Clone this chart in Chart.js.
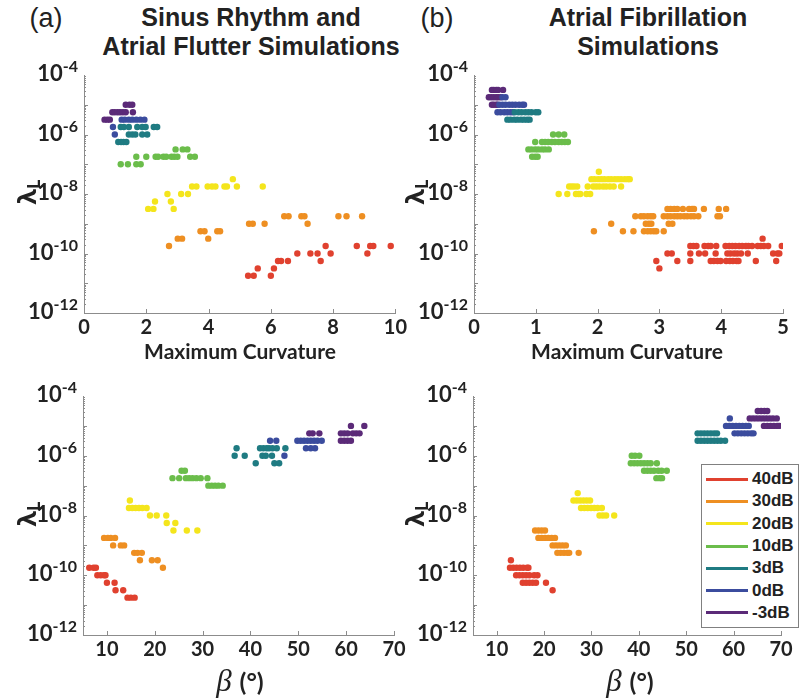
<!DOCTYPE html>
<html lang="en">
<head>
<meta charset="UTF-8">
<title>Regularisation parameter vs. curvature and beta</title>
<script src="https://cdn.jsdelivr.net/npm/chart.js"></script>
<style>
  body { margin: 0; width: 800px; height: 698px; position: relative; background: #fff; overflow: hidden; color: #222; }
  canvas { position: absolute; }
  .txt { position: absolute; transform: translate(-50%, -50%); white-space: nowrap; text-align: center; line-height: 1.13; }
  .title { font: bold 25px "Liberation Sans", Arial, sans-serif; }
  .tag { font: 27px "Liberation Sans", Arial, sans-serif; }
  .xlab { font: bold 21px Lato, sans-serif; }
  .beta { font: italic 31px "Liberation Serif", serif; }
  .beta span { font: bold 25px Lato, sans-serif; font-style: normal; }
  .ylab { font: bold 25px "Open Sans", sans-serif; transform: translate(-50%, -50%) rotate(-90deg); }
  .ylab sub { font-size: 17px; vertical-align: -4px; }
  #legend { position: absolute; left: 701px; top: 464px; width: 96px; height: 159px; border: 1px solid #808080; background: #fff; padding-top: 3px; box-sizing: content-box; }
  #legend div { height: 22.3px; display: flex; align-items: center; font: bold 17px "Liberation Sans", Arial, sans-serif; }
  #legend i { display: inline-block; width: 42px; height: 3px; margin: 0 4px 0 4px; }
</style>
</head>
<body>

<div class="txt tag" style="left:46px; top:18px">(a)</div>
<div class="txt title" style="left:251px; top:32px">Sinus Rhythm and<br>Atrial Flutter Simulations</div>
<div class="txt tag" style="left:437px; top:18px">(b)</div>
<div class="txt title" style="left:648px; top:32px">Atrial Fibrillation<br>Simulations</div>

<canvas id="srCurv" width="410" height="290" style="left:0; top:55px"></canvas>
<canvas id="afCurv" width="390" height="290" style="left:410px; top:55px"></canvas>
<canvas id="srBeta" width="410" height="290" style="left:0; top:376px"></canvas>
<canvas id="afBeta" width="390" height="290" style="left:410px; top:376px"></canvas>

<div class="txt xlab" style="left:240px; top:350px">Maximum Curvature</div>
<div class="txt xlab" style="left:627px; top:350px">Maximum Curvature</div>
<div class="txt beta" style="left:240px; top:681px">β <span>(°)</span></div>
<div class="txt beta" style="left:630px; top:681px">β <span>(°)</span></div>
<div class="txt ylab" style="left:27px; top:192px">λ<sub>L</sub></div>
<div class="txt ylab" style="left:415px; top:192px">λ<sub>L</sub></div>
<div class="txt ylab" style="left:27px; top:514px">λ<sub>L</sub></div>
<div class="txt ylab" style="left:415px; top:514px">λ<sub>L</sub></div>

<div id="legend"></div>

<script>
// SNR levels, one series each
const noiseLevels = ['40dB', '30dB', '20dB', '10dB', '3dB', '0dB', '-3dB'];
const levelColors = ['#e0412f', '#ee8f22', '#f4e51c', '#6bbd4b', '#1f7b82', '#3b4c9e', '#5b2a78'];

// tick labels
const yTickExps = [-4, -6, -8, -10, -12];
const srCurvTicks = [0, 2, 4, 6, 8, 10];
const afCurvTicks = [0, 1, 2, 3, 4, 5];
const betaTicks = [10, 20, 30, 40, 50, 60, 70];

// each row: [log10(lambda_L), x values...], one list of rows per SNR level
const srCurvature = [
  [[-9.75, 7.76, 8.76, 9.19, 9.29, 9.85], [-10, 6.85, 7.27, 7.5, 7.92, 9.1], [-10.25, 6.23, 6.33, 6.55, 7.6], [-10.5, 5.58, 6.1], [-10.75, 5.27, 5.45, 6.0]],
  [[-8.75, 6.43, 6.57, 6.98, 7.08, 8.17, 8.43, 8.93], [-9, 5.3, 5.42, 5.8, 7.18], [-9.25, 3.74, 3.87, 4.28, 4.37], [-9.5, 3.01, 3.15, 3.99], [-9.75, 2.73]],
  [[-7.5, 4.78], [-7.75, 3.47, 3.61, 3.97, 4.11, 4.22, 4.51, 4.59, 4.91, 5.74], [-8, 2.68, 3.12, 3.34], [-8.25, 2.28, 2.79], [-8.5, 2.06, 2.23, 2.88]],
  [[-6.5, 2.94, 3.17, 3.32], [-6.75, 1.68, 2.0, 2.3, 2.38, 2.55, 2.64, 2.81, 2.9, 3.0, 3.41, 3.56], [-7, 1.18, 1.41, 1.68, 1.82]],
  [[-5.75, 1.18, 1.28, 1.44, 1.71, 1.87, 1.98, 2.24, 2.35], [-6, 1.44, 1.55, 1.65, 1.87, 2.03], [-6.25, 1.1, 1.19, 1.27, 1.36]],
  [[-5.5, 1.21, 1.31, 1.44, 1.55, 1.68, 1.81, 1.94], [-5.75, 0.93], [-6, 0.99]],
  [[-5, 1.34, 1.46, 1.55], [-5.25, 0.91, 0.99, 1.08, 1.16, 1.25, 1.34, 1.57], [-5.5, 0.66, 0.75, 0.83]]
];

const afCurvature = [
  [[-9.5, 4.67], [-9.75, 3.5, 3.55, 3.6, 3.73, 3.79, 3.83, 3.92, 4.07, 4.13, 4.18, 4.23, 4.29, 4.34, 4.4, 4.44, 4.5, 4.59, 4.64, 4.69, 4.76, 4.98],
   [-10, 3.13, 3.2, 3.5, 3.64, 3.74, 3.91, 4.1, 4.15, 4.21, 4.26, 4.32, 4.43, 4.84, 4.91, 4.94],
   [-10.25, 2.95, 3.29, 3.5, 3.83, 3.88, 3.94, 3.99, 4.08, 4.14, 4.19, 4.25, 4.28, 4.56, 4.89], [-10.5, 3.0]],
  [[-8.5, 3.13, 3.18, 3.24, 3.29, 3.38, 3.48, 3.53, 3.56, 3.72, 3.96, 4.08],
   [-8.75, 2.61, 2.7, 2.75, 2.81, 2.86, 2.9, 3.07, 3.13, 3.18, 3.24, 3.29, 3.34, 3.4, 3.45, 3.51, 3.56, 3.63, 3.94, 3.98],
   [-9, 2.22, 2.78, 2.83, 2.87, 3.15, 3.21], [-9.25, 1.94, 2.41, 2.58, 2.75, 2.81, 2.86, 2.91, 2.95, 3.07]],
  [[-7.25, 2.02], [-7.5, 1.9, 1.95, 2.01, 2.06, 2.11, 2.17, 2.22, 2.28, 2.33, 2.38, 2.44, 2.49, 2.52],
   [-7.75, 1.54, 1.58, 1.62, 1.67, 1.84, 1.93, 1.98, 2.03, 2.09, 2.14, 2.2, 2.26, 2.38], [-8, 1.37, 1.51, 1.65, 1.69, 1.72, 1.82, 1.88]],
  [[-6, 1.28, 1.37, 1.46], [-6.25, 0.99, 1.1, 1.15, 1.2, 1.26, 1.31, 1.37, 1.42, 1.47, 1.52],
   [-6.5, 0.88, 0.93, 0.99, 1.04, 1.1, 1.15, 1.21], [-6.75, 0.94, 0.99, 1.03]],
  [[-5.25, 0.66, 0.72, 0.77, 0.83, 0.88, 0.93, 1.0, 1.04], [-5.5, 0.54, 0.59, 0.65, 0.7, 0.76, 0.81, 0.86, 0.9]],
  [[-4.75, 0.46, 0.51], [-5, 0.41, 0.46, 0.51, 0.57, 0.62, 0.67, 0.73, 0.78, 0.81], [-5.25, 0.38, 0.43, 0.49, 0.54, 0.59, 0.63]],
  [[-4.5, 0.29, 0.32, 0.36, 0.39, 0.47], [-4.75, 0.24, 0.28, 0.32, 0.36, 0.39, 0.43], [-5, 0.29, 0.32, 0.36, 0.38]]
];

const srBeta = [
  [[-9.75, 6.3, 7.2, 7.7], [-10, 8.0, 8.7, 9.4, 9.7], [-10.25, 10.0, 11.6], [-10.5, 11.8, 13.4], [-10.75, 14.3, 15.0, 15.8]],
  [[-8.75, 9.4, 10.2, 10.8, 11.7], [-9, 11.3, 12.9, 13.6], [-9.25, 15.7, 16.4, 17.3], [-9.5, 16.9, 19.4, 20.6], [-9.75, 21.7]],
  [[-7.5, 14.8], [-7.75, 14.6, 15.3, 16.0, 16.7, 17.4, 18.3], [-8, 19.0, 20.4, 22.4], [-8.25, 22.5, 24.3], [-8.5, 23.9, 26.7, 28.9]],
  [[-6.5, 25.6, 26.3], [-6.75, 23.7, 25.1, 26.5, 27.2, 27.9, 28.7, 29.6, 31.0], [-7, 31.2, 31.9, 32.6, 33.3, 34.2]],
  [[-5.75, 37.1, 42.0, 42.7, 43.4, 43.9, 44.6, 45.5, 47.3], [-6, 36.7, 38.8, 42.5, 43.2, 44.5], [-6.25, 41.1, 45.0, 46.0]],
  [[-5.5, 44.1, 45.4, 49.8, 50.5, 51.2, 51.9, 52.6, 53.3, 54.0, 54.9], [-5.75, 51.6, 52.6, 53.5], [-6, 47.1]],
  [[-5, 61.0, 63.8], [-5.25, 52.3, 53.0, 54.4, 58.9, 59.6, 60.3, 61.4, 62.1, 62.8], [-5.5, 58.9, 59.6, 60.3, 61.0]]
];

const afBeta = [
  [[-9.5, 13.0], [-9.75, 12.8, 13.5, 14.2, 14.9, 15.6, 16.4, 16.7], [-10, 14.1, 14.8, 15.5, 16.2, 16.9, 17.9, 18.6],
   [-10.25, 15.5, 16.2, 16.9, 17.6, 18.3, 20.4], [-10.5, 21.8]],
  [[-8.5, 18.1, 18.8, 19.5, 20.2], [-8.75, 18.8, 19.5, 20.2, 20.9, 21.6, 22.3], [-9, 21.8, 22.5, 23.2, 23.9, 24.6],
   [-9.25, 22.8, 23.5, 24.2, 24.9, 25.3, 27.3]],
  [[-7.25, 27.1], [-7.5, 26.2, 26.9, 27.6, 28.3, 29.0, 29.7], [-7.75, 27.8, 28.5, 29.2, 29.9, 30.6, 31.3, 32.2], [-8, 31.7, 32.4, 33.1, 34.8]],
  [[-6, 38.5, 39.2, 40.1], [-6.25, 38.3, 39.0, 39.7, 40.4, 41.1, 41.8, 42.5, 43.8], [-6.5, 41.1, 41.8, 42.5, 43.2, 44.1, 44.8, 45.9],
   [-6.75, 43.7, 44.4, 44.9]],
  [[-5.25, 52.4, 53.1, 53.8, 54.5, 55.2, 55.9, 56.5], [-5.5, 52.4, 53.1, 53.8, 54.5, 55.2, 55.9, 56.6, 57.3, 58.2]],
  [[-4.75, 59.2], [-5, 58.4, 59.1, 59.8, 60.5, 61.2, 61.9, 62.6, 63.2], [-5.25, 60.2, 60.9, 61.6, 62.3, 63.0, 63.7, 64.2]],
  [[-4.5, 65.1, 65.8, 66.5, 67.1], [-4.75, 63.4, 64.1, 64.8, 65.5, 66.2, 66.9, 67.6, 68.3, 69.1], [-5, 66.4, 67.1, 67.8, 68.5, 69.2, 69.6]]
];

// rows -> scatter points
function toPoints(rows) {
  return rows.flatMap(([e, ...xs]) => xs.map(x => ({ x: x, y: Math.pow(10, e) })));
}

// inward ticks, log minor ticks and 10^n labels
const axisDecor = {
  id: 'axisDecor',
  afterDraw(chart) {
    const { ctx, chartArea: a, scales: { x, y } } = chart;
    ctx.save();
    ctx.strokeStyle = '#8c8c8c';
    ctx.lineWidth = 1;
    ctx.beginPath();
    for (let e = -12; e < -4; e++) {
      for (let m = 1; m < 10; m++) {
        const py = Math.round(y.getPixelForValue(m * Math.pow(10, e))) + 0.5;
        ctx.moveTo(a.left, py);
        ctx.lineTo(a.left + (m === 1 ? 4 : 2), py);
      }
    }
    x.ticks.forEach(t => {
      const px = Math.round(x.getPixelForValue(t.value)) + 0.5;
      ctx.moveTo(px, a.bottom);
      ctx.lineTo(px, a.bottom - 4);
    });
    ctx.stroke();

    ctx.fillStyle = '#222';
    ctx.textAlign = 'right';
    ctx.textBaseline = 'middle';
    yTickExps.forEach(e => {
      const py = y.getPixelForValue(Math.pow(10, e));
      const sup = String(e);
      ctx.font = 'bold 16px Lato';
      const sw = ctx.measureText(sup).width;
      const right = a.left - 6;
      ctx.fillText(sup, right, py - 8);
      ctx.font = 'bold 22px Lato';
      ctx.fillText('10', right - sw, py - 1);
    });
    ctx.restore();
  }
};

function makePanel(id, series, xMin, xMax, xTicks, box) {
  const canvas = document.getElementById(id);
  return new Chart(canvas, {
    type: 'scatter',
    data: {
      datasets: noiseLevels.map((name, i) => ({
        label: name,
        data: toPoints(series[i]),
        backgroundColor: levelColors[i],
        pointRadius: 3.2,
        pointHoverRadius: 3.2,
        borderWidth: 0
      }))
    },
    options: {
      responsive: false,
      animation: false,
      events: [],
      layout: { padding: { top: box.top, right: canvas.width - box.right, left: 0, bottom: 0 } },
      plugins: { legend: { display: false }, tooltip: { enabled: false } },
      scales: {
        x: {
          type: 'linear',
          min: xMin,
          max: xMax,
          afterBuildTicks: s => { s.ticks = xTicks.map(v => ({ value: v })); },
          afterFit: s => { s.height = canvas.height - box.bottom; },
          ticks: { color: '#222', font: { family: 'Lato', size: 20, weight: 'bold' }, padding: 3, maxRotation: 0, callback: v => String(v) },
          grid: { display: false, drawTicks: false },
          border: { display: true, color: '#8c8c8c', width: 1 }
        },
        y: {
          type: 'logarithmic',
          min: 1e-12,
          max: 1e-4,
          afterFit: s => { s.width = box.left; },
          ticks: { display: false },
          grid: { display: false, drawTicks: false },
          border: { display: true, color: '#8c8c8c', width: 1 }
        }
      }
    },
    plugins: [axisDecor]
  });
}

makePanel('srCurv', srCurvature, 0, 10, srCurvTicks, { left: 84, top: 20, right: 397, bottom: 258 });
makePanel('afCurv', afCurvature, 0, 5, afCurvTicks, { left: 64, top: 20, right: 373, bottom: 258 });
makePanel('srBeta', srBeta, 5, 70, betaTicks, { left: 83, top: 20, right: 394, bottom: 259 });
makePanel('afBeta', afBeta, 5, 70, betaTicks, { left: 63, top: 20, right: 371, bottom: 259 });

// legend box
const legend = document.getElementById('legend');
noiseLevels.forEach((name, i) => {
  const row = document.createElement('div');
  row.innerHTML = '<i style="background:' + levelColors[i] + '"></i>' + name;
  legend.appendChild(row);
});
</script>
</body>
</html>
